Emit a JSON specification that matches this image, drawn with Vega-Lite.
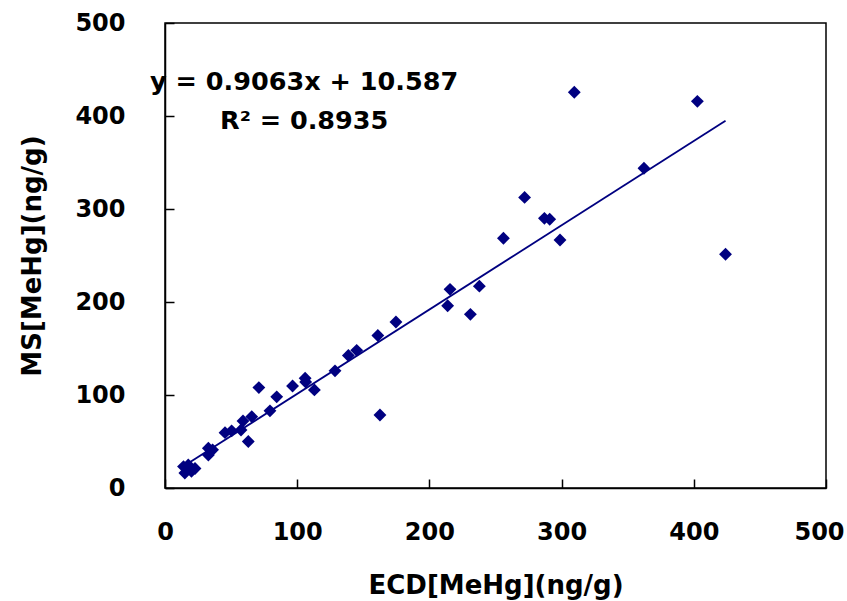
{
  "$schema": "https://vega.github.io/schema/vega-lite/v6.json",
  "width": 661,
  "height": 465,
  "autosize": "none",
  "padding": {"left": 165, "top": 23, "right": 21, "bottom": 113},
  "background": "white",
  "config": {
    "view": {"stroke": "black", "strokeWidth": 1.5},
    "font": "DejaVu Sans",
    "axis": {
      "grid": false,
      "domainColor": "black",
      "domainWidth": 1.5,
      "tickColor": "black",
      "tickWidth": 1.5,
      "tickSize": -9,
      "labelFont": "DejaVu Sans",
      "labelFontWeight": "bold",
      "labelFontSize": 24,
      "labelColor": "black",
      "labelFlush": false,
      "labelOverlap": false,
      "titleFont": "DejaVu Sans",
      "titleFontWeight": "bold",
      "titleFontSize": 26,
      "titleColor": "black"
    }
  },
  "datasets": {
    "points": [
      {"ecd": 15, "ms": 16},
      {"ecd": 14, "ms": 23},
      {"ecd": 17.6, "ms": 24.7},
      {"ecd": 22.7, "ms": 21},
      {"ecd": 20, "ms": 18},
      {"ecd": 32.8, "ms": 42.7},
      {"ecd": 32.8, "ms": 35.5},
      {"ecd": 36, "ms": 41},
      {"ecd": 45.4, "ms": 59.5},
      {"ecd": 50.4, "ms": 61.5},
      {"ecd": 57.5, "ms": 62.4},
      {"ecd": 59, "ms": 72},
      {"ecd": 63, "ms": 50},
      {"ecd": 65.6, "ms": 76.7},
      {"ecd": 71, "ms": 108},
      {"ecd": 79.4, "ms": 83},
      {"ecd": 84.5, "ms": 98},
      {"ecd": 96.5, "ms": 109.7},
      {"ecd": 106, "ms": 118},
      {"ecd": 106.4, "ms": 114},
      {"ecd": 113, "ms": 105.5},
      {"ecd": 128.6, "ms": 126},
      {"ecd": 138.7, "ms": 142.5},
      {"ecd": 145, "ms": 148},
      {"ecd": 161, "ms": 164},
      {"ecd": 162.6, "ms": 78.5},
      {"ecd": 174.7, "ms": 178.5},
      {"ecd": 213.8, "ms": 196},
      {"ecd": 215.6, "ms": 213.6},
      {"ecd": 231, "ms": 186.7},
      {"ecd": 237.8, "ms": 217},
      {"ecd": 256, "ms": 268.5},
      {"ecd": 272, "ms": 312.5},
      {"ecd": 287, "ms": 290},
      {"ecd": 291, "ms": 289},
      {"ecd": 298.8, "ms": 266.7},
      {"ecd": 309.6, "ms": 425.5},
      {"ecd": 362.3, "ms": 343.8},
      {"ecd": 402.7, "ms": 415.8},
      {"ecd": 424, "ms": 251.3}
    ],
    "trend": [
      {"ecd": 14, "ms": 23.3},
      {"ecd": 424, "ms": 394.9}
    ]
  },
  "layer": [
    {
      "data": {"name": "points"},
      "mark": {"type": "point", "shape": "diamond", "filled": true, "size": 165, "color": "#000080", "opacity": 1},
      "encoding": {
        "x": {
          "field": "ecd", "type": "quantitative",
          "scale": {"domain": [0, 500], "nice": false, "zero": false},
          "axis": {
            "values": [0, 100, 200, 300, 400, 500],
            "labelPadding": 41,
            "labelOffset": {"condition": {"test": "datum.value == 500", "value": -7}, "value": 0},
            "title": "ECD[MeHg](ng/g)",
            "titleY": 105,
            "titleBaseline": "alphabetic"
          }
        },
        "y": {
          "field": "ms", "type": "quantitative",
          "scale": {"domain": [0, 500], "nice": false, "zero": false},
          "axis": {
            "values": [0, 100, 200, 300, 400, 500],
            "labelPadding": 49,
            "title": "MS[MeHg](ng/g)",
            "titleX": -125,
            "titleY": 232.5,
            "titleAngle": -90,
            "titleBaseline": "alphabetic"
          }
        }
      }
    },
    {
      "data": {"name": "trend"},
      "mark": {"type": "line", "color": "#000080", "strokeWidth": 1.8},
      "encoding": {
        "x": {"field": "ecd", "type": "quantitative"},
        "y": {"field": "ms", "type": "quantitative"}
      }
    },
    {
      "data": {"values": [{}]},
      "mark": {"type": "text", "text": "y = 0.9063x + 10.587", "align": "left", "baseline": "alphabetic", "font": "DejaVu Sans", "fontWeight": "bold", "fontSize": 25.5, "color": "black", "clip": false},
      "encoding": {
        "x": {"datum": -11.3, "type": "quantitative"},
        "y": {"datum": 428, "type": "quantitative"}
      }
    },
    {
      "data": {"values": [{}]},
      "mark": {"type": "text", "text": "R² = 0.8935", "align": "left", "baseline": "alphabetic", "font": "DejaVu Sans", "fontWeight": "bold", "fontSize": 25.5, "color": "black", "clip": false},
      "encoding": {
        "x": {"datum": 41.6, "type": "quantitative"},
        "y": {"datum": 386, "type": "quantitative"}
      }
    }
  ]
}
